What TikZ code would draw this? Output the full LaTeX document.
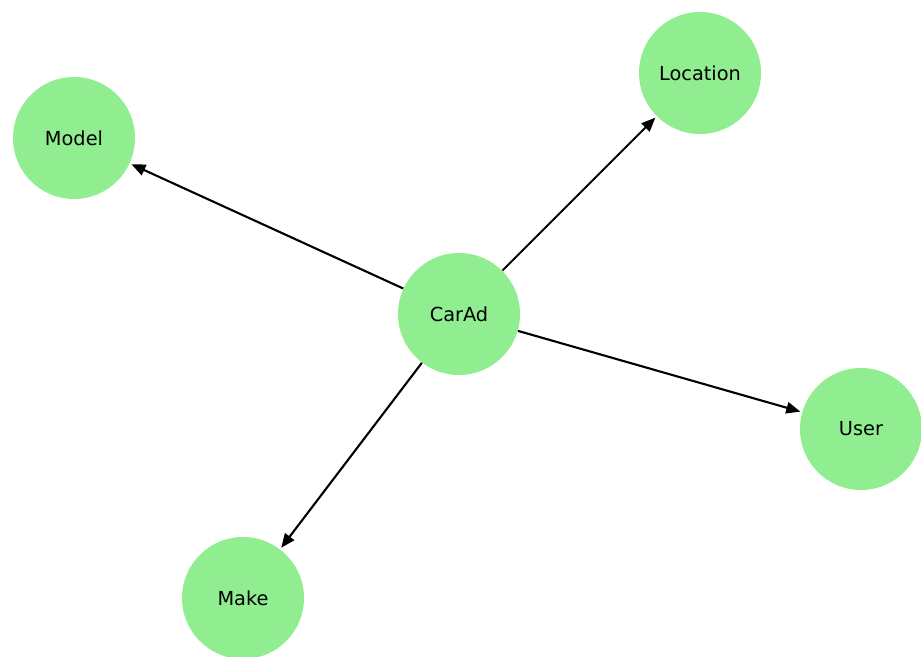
\documentclass[tikz,border=0pt]{standalone}
\usepackage{fontspec}
\setmainfont{DejaVu Sans}
\usepackage{tikz}
\usetikzlibrary{arrows.meta}
\definecolor{nodegreen}{HTML}{90EE90}
\tikzset{
	entity/.style={circle, fill=nodegreen, minimum size=2.44cm, inner sep=0pt, font=\fontsize{11}{13}\selectfont},
	link/.style={-{Triangle[length=8pt,width=6.5pt]}, line width=1.2pt, shorten >=1pt}
}

\begin{document}
\begin{tikzpicture}
				\useasboundingbox (0,0) rectangle (18.42,13.14);
				%Nodes
				\node[entity] (carad)    at (9.18,6.86)  {CarAd};
				\node[entity] (model)    at (1.48,10.38) {Model};
				\node[entity] (location) at (14.0,11.68) {Location};
				\node[entity] (user)     at (17.22,4.56) {User};
				\node[entity] (make)     at (4.86,1.18)  {Make};
				
				%Lines
				\draw[link] (carad) -- (model);
				\draw[link] (carad) -- (location);
				\draw[link] (carad) -- (user);
				\draw[link] (carad) -- (make);
		\end{tikzpicture}
\end{document}
